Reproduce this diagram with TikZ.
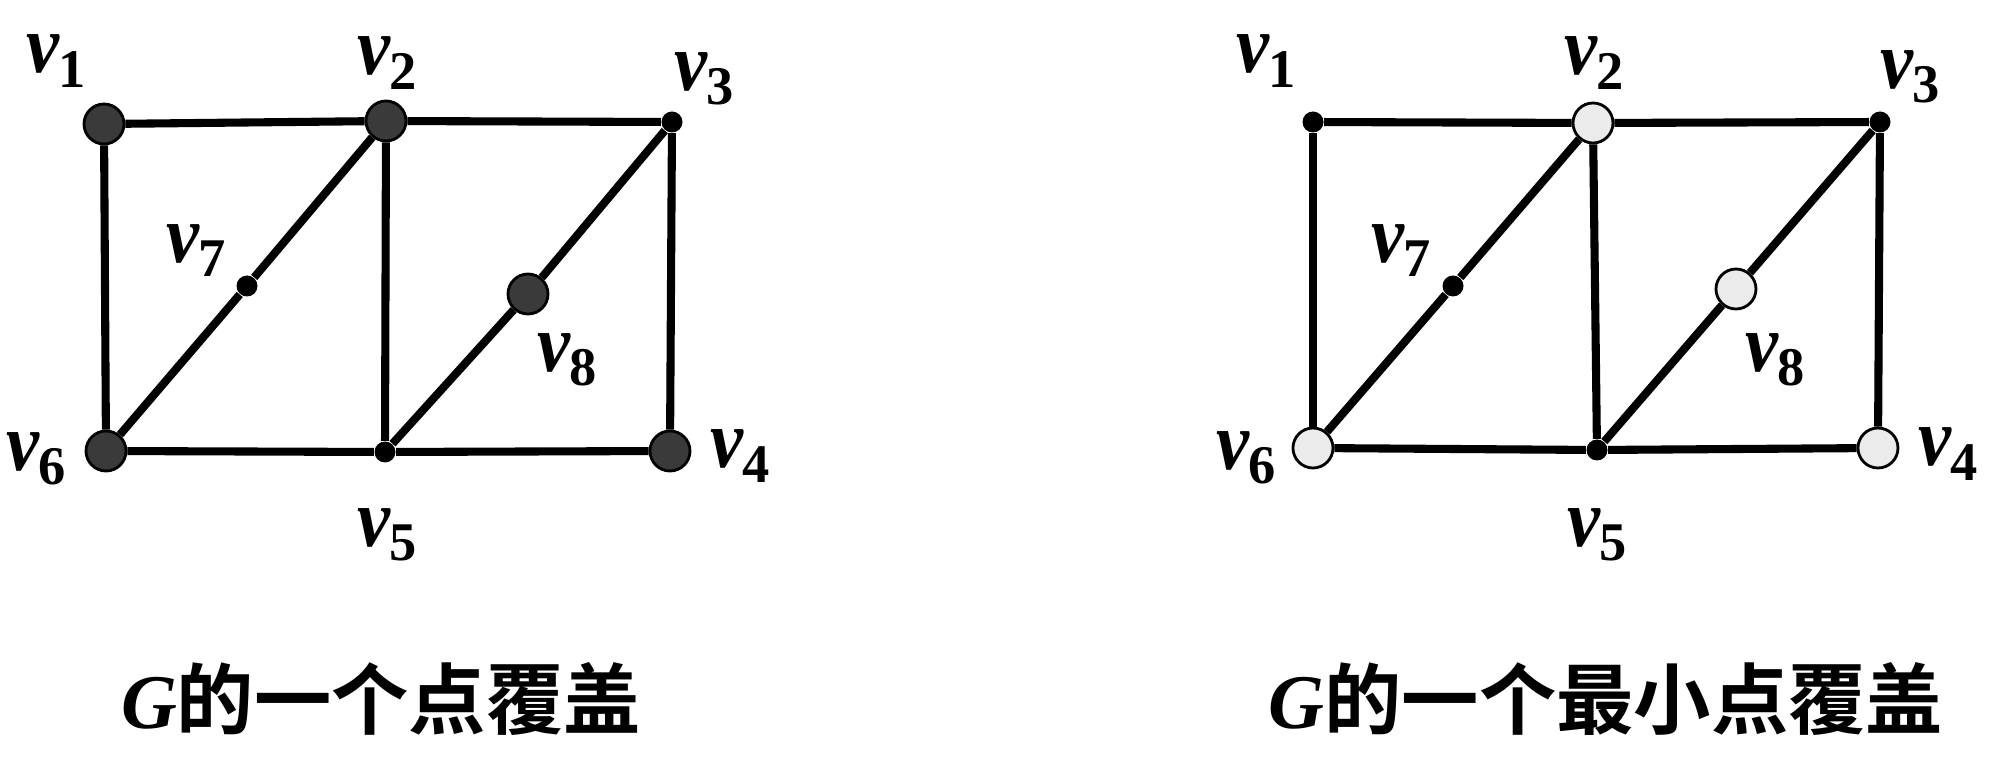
\documentclass[tikz,border=0pt]{standalone}
\usepackage{fontspec}
\setmainfont{Liberation Serif}
\newfontfamily\cjk{Noto Sans CJK SC}[BoldFont={* Bold}]
\definecolor{coverdark}{HTML}{3A3A3A}
\definecolor{coverlight}{HTML}{EBEBEB}
\newcommand{\vl}[1]{\scalebox{0.9}[1]{\fontsize{23.5}{23.5}\selectfont\textbf{\textit{v}}}\kern-0.5pt\raisebox{-4pt}{\fontsize{15.5}{15.5}\selectfont\bfseries #1}}

\begin{document}
\begin{tikzpicture}[x=0.1mm,y=0.1mm]
\tikzstyle{every node}+=[inner sep=0pt]
\tikzstyle{vdark}=[circle,draw=black,line width=0.8pt,fill=coverdark,minimum size=0.4cm]
\tikzstyle{vlight}=[circle,draw=black,line width=0.8pt,fill=coverlight,minimum size=0.4cm]
\tikzstyle{vdot}=[circle,fill=black,minimum size=0.21cm]
\tikzstyle{edge}=[black,line width=2.3pt]
\useasboundingbox (0,0) rectangle (2000,-776);
% left: a vertex cover
\node [vdark] (a1) at (104,-124) {};
\node [vdark] (a2) at (386,-121) {};
\node [vdot] (a3) at (672,-122) {};
\node [vdark] (a4) at (670,-451) {};
\node [vdot] (a5) at (385,-452) {};
\node [vdark] (a6) at (106,-451) {};
\node [vdot] (a7) at (247,-286) {};
\node [vdark] (a8) at (528,-294) {};
\draw [edge] (a1) -- (a2);
\draw [edge] (a2) -- (a3);
\draw [edge] (a1) -- (a6);
\draw [edge] (a6) -- (a5);
\draw [edge] (a5) -- (a4);
\draw [edge] (a3) -- (a4);
\draw [edge] (a2) -- (a5);
\draw [edge] (a2) -- (a7);
\draw [edge] (a7) -- (a6);
\draw [edge] (a3) -- (a8);
\draw [edge] (a8) -- (a5);
\node (la1) at (56,-61) {\vl{1}};
\node (la2) at (387,-63) {\vl{2}};
\node (la3) at (704,-79) {\vl{3}};
\node (la4) at (740,-456) {\vl{4}};
\node (la5) at (387,-535) {\vl{5}};
\node (la6) at (36,-459) {\vl{6}};
\node (la7) at (196,-251) {\vl{7}};
\node (la8) at (567,-360) {\vl{8}};
\node (ta) at (381,-699) {\fontsize{22}{22}\selectfont\bfseries\textit{G}\cjk 的一个点覆盖};
% right: a minimum vertex cover
\node [vdot] (b1) at (1313,-122) {};
\node [vlight] (b2) at (1593,-123) {};
\node [vdot] (b3) at (1880,-122) {};
\node [vlight] (b4) at (1878,-448) {};
\node [vdot] (b5) at (1597,-450) {};
\node [vlight] (b6) at (1313,-448) {};
\node [vdot] (b7) at (1453,-286) {};
\node [vlight] (b8) at (1736,-289) {};
\draw [edge] (b1) -- (b2);
\draw [edge] (b2) -- (b3);
\draw [edge] (b1) -- (b6);
\draw [edge] (b6) -- (b5);
\draw [edge] (b5) -- (b4);
\draw [edge] (b3) -- (b4);
\draw [edge] (b2) -- (b5);
\draw [edge] (b2) -- (b7);
\draw [edge] (b7) -- (b6);
\draw [edge] (b3) -- (b8);
\draw [edge] (b8) -- (b5);
\node (lb1) at (1266,-61) {\vl{1}};
\node (lb2) at (1594,-63) {\vl{2}};
\node (lb3) at (1910,-77) {\vl{3}};
\node (lb4) at (1948,-454) {\vl{4}};
\node (lb5) at (1597,-535) {\vl{5}};
\node (lb6) at (1246,-458) {\vl{6}};
\node (lb7) at (1401,-251) {\vl{7}};
\node (lb8) at (1775,-360) {\vl{8}};
\node (tb) at (1606,-699) {\fontsize{22}{22}\selectfont\bfseries\textit{G}\cjk 的一个最小点覆盖};
\end{tikzpicture}
\end{document}
